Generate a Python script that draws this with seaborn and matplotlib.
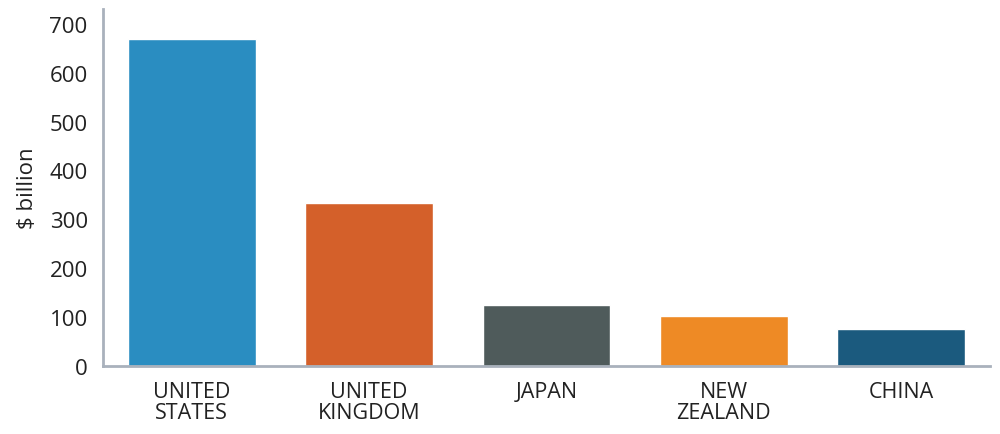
import pandas as pd
import matplotlib
matplotlib.use("Agg")
import matplotlib.pyplot as plt
import seaborn as sns

# data
countries = ["UNITED\nSTATES", "UNITED\nKINGDOM", "JAPAN", "NEW\nZEALAND", "CHINA"]
values = [668, 334, 125, 103, 76]
colors = ["#2A8DC1", "#D4602A", "#4F5B5B", "#EE8A25", "#1B5A7E"]
y_ticks = [0, 100, 200, 300, 400, 500, 600, 700]

sns.set_theme(style="white")
plt.rcParams["font.family"] = ["Open Sans", "DejaVu Sans"]

df = pd.DataFrame({"country": countries, "value": values})

fig = plt.figure(figsize=(10, 4.35), dpi=100)
ax = fig.add_axes([0.103, 0.156, 0.887, 0.821])

sns.barplot(data=df, x="country", y="value", hue="country", palette=colors,
            legend=False, width=0.72, saturation=1, ax=ax)

ax.set_xlim(-0.5, 4.5)
ax.set_ylim(0, 730)
ax.set_yticks(y_ticks)
ax.set_yticklabels([str(t) for t in y_ticks], fontsize=16, color="#222222")
ax.tick_params(axis="x", labelsize=15.5, colors="#222222", length=0, pad=11)
ax.tick_params(axis="y", length=0, pad=11)
for lbl in ax.get_xticklabels():
    lbl.set_linespacing(0.95)

ax.set_xlabel("")
ax.set_ylabel("$ billion", fontsize=16, color="#222222", labelpad=8)

for side in ["top", "right"]:
    ax.spines[side].set_visible(False)
for side in ["left", "bottom"]:
    ax.spines[side].set_color("#A9B1BC")
    ax.spines[side].set_linewidth(2)

fig.savefig("out.png", dpi=100)
